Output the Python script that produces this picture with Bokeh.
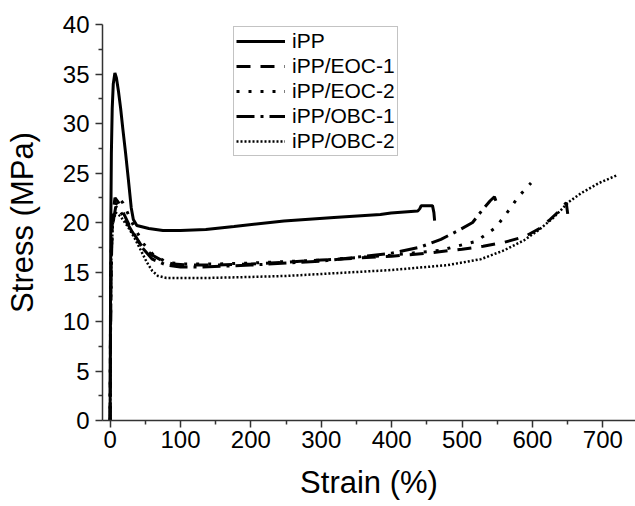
from bokeh.plotting import figure
from bokeh.models import Range1d, FixedTicker, Legend, LegendItem
from bokeh.embed import file_html
from bokeh.resources import INLINE

# ---- data ----
ipp_x = [0, 0.5, 1, 1.8, 3, 4.5, 6.8, 9, 12, 15, 18, 22, 26, 30, 33, 38, 55, 75, 100, 136, 176, 247, 318, 384, 399, 437, 440, 442, 458, 460, 461]
ipp_y = [0, 10, 20, 27, 31.5, 34, 35.1, 34.6, 33.2, 31.5, 29.5, 27, 24.3, 21.5, 20.3, 19.7, 19.4, 19.2, 19.2, 19.3, 19.6, 20.15, 20.5, 20.8, 20.96, 21.15, 21.4, 21.7, 21.7, 21.0, 20.2]

eoc1_x = [0, 0.5, 1.5, 3, 7, 12, 20, 30, 45, 60, 75, 90, 110, 150, 200, 250, 300, 350, 400, 450, 500, 530, 560, 590, 610, 625, 640, 648, 651]
eoc1_y = [0, 8, 16, 20.5, 22.5, 22, 20.8, 19.3, 17.6, 16.7, 16.1, 15.8, 15.7, 15.7, 15.8, 16.0, 16.2, 16.4, 16.6, 16.9, 17.3, 17.6, 18.0, 18.6, 19.4, 20.3, 21.3, 22.0, 20.4]

eoc2_x = [0, 0.5, 1.5, 4, 12, 18, 26, 36, 48, 62, 80, 100, 150, 200, 300, 400, 470, 520, 548, 565, 580, 598]
eoc2_y = [0, 9, 17, 21, 22.5, 22.0, 20.8, 19.3, 17.8, 16.7, 16.0, 15.8, 15.8, 15.9, 16.2, 16.7, 17.2, 18.1, 19.5, 21.1, 22.6, 24.0]

obc1_x = [0, 0.5, 1.5, 3, 8, 14, 22, 32, 45, 60, 80, 100, 130, 200, 300, 400, 440, 470, 495, 515, 527, 540, 546, 549]
obc1_y = [0, 8, 15, 19.5, 21.6, 21.2, 20.2, 19.0, 17.5, 16.3, 15.7, 15.5, 15.5, 15.7, 16.1, 16.9, 17.5, 18.3, 19.2, 20.0, 21.1, 22.2, 22.6, 22.0]

obc2_x = [0, 0.5, 1.5, 4, 8, 15, 25, 35, 45, 52, 60, 68, 80, 100, 140, 200, 250, 300, 400, 480, 527, 560, 588, 610, 630, 652, 670, 695, 721]
obc2_y = [0, 8, 16, 20, 21, 20.6, 19.6, 18.4, 17.0, 16.0, 15.1, 14.6, 14.4, 14.4, 14.4, 14.5, 14.6, 14.8, 15.2, 15.7, 16.3, 17.2, 18.2, 19.3, 20.5, 22.1, 23.0, 24.0, 24.8]

labels = ["iPP", "iPP/EOC-1", "iPP/EOC-2", "iPP/OBC-1", "iPP/OBC-2"]
x_ticks = [0, 100, 200, 300, 400, 500, 600, 700]
y_ticks = [0, 5, 10, 15, 20, 25, 30, 35, 40]

FONT = "Liberation Sans"

p = figure(width=635, height=506, output_backend="svg", toolbar_location=None,
           x_range=Range1d(-10.8, 746.4), y_range=Range1d(0, 40),
           min_border_left=102, min_border_right=0, min_border_top=24, min_border_bottom=86)
p.outline_line_color = None
p.grid.visible = False
p.background_fill_color = "white"

styles = [
    (ipp_x, ipp_y, "solid", 3),
    (eoc1_x, eoc1_y, "14 10", 3),
    (eoc2_x, eoc2_y, "3 9", 3),
    (obc1_x, obc1_y, "18 6 3 6", 3),
    (obc2_x, obc2_y, "2 2", 2.5),
]
renderers = []
for (xs, ys, dash, lw) in styles:
    r = p.line(xs, ys, line_color="black", line_width=lw, line_dash=dash)
    renderers.append(r)

legend = Legend(items=[LegendItem(label=l, renderers=[r]) for l, r in zip(labels, renderers)],
                location=(131, 264))
legend.label_text_font = FONT
legend.label_text_font_size = "21px"
legend.label_text_color = "black"
legend.glyph_width = 49
legend.glyph_height = 20
legend.label_height = 20
legend.spacing = 1
legend.padding = 2
legend.margin = 0
legend.label_standoff = 7
legend.border_line_color = "#888888"
legend.border_line_width = 1
legend.background_fill_alpha = 1
p.add_layout(legend)

xa = p.xaxis[0]
ya = p.yaxis[0]
xa.ticker = FixedTicker(ticks=x_ticks, minor_ticks=[v + 50 for v in x_ticks])
ya.ticker = FixedTicker(ticks=y_ticks, minor_ticks=[v + 2.5 for v in y_ticks[:-1]])
xa.axis_label = "Strain (%)"
ya.axis_label = "Stress (MPa)"
for ax in (xa, ya):
    ax.axis_label_text_font = FONT
    ax.axis_label_text_font_size = "31px"
    ax.axis_label_text_font_style = "normal"
    ax.axis_label_text_color = "black"
    ax.major_label_text_font = FONT
    ax.major_label_text_font_size = "24px"
    ax.major_label_text_color = "black"
    ax.axis_line_color = "#333333"
    ax.axis_line_width = 1.5
    ax.major_tick_line_color = "#333333"
    ax.minor_tick_line_color = "#333333"
    ax.major_tick_line_width = 1.5
    ax.minor_tick_line_width = 1.5
    ax.major_tick_in = 0
    ax.minor_tick_in = 0
    ax.major_tick_out = 7
    ax.minor_tick_out = 4
xa.major_label_standoff = 3
ya.major_label_standoff = 6
xa.axis_label_standoff = 14
ya.axis_label_standoff = 20

open("out.html", "w").write(file_html(p, INLINE))
